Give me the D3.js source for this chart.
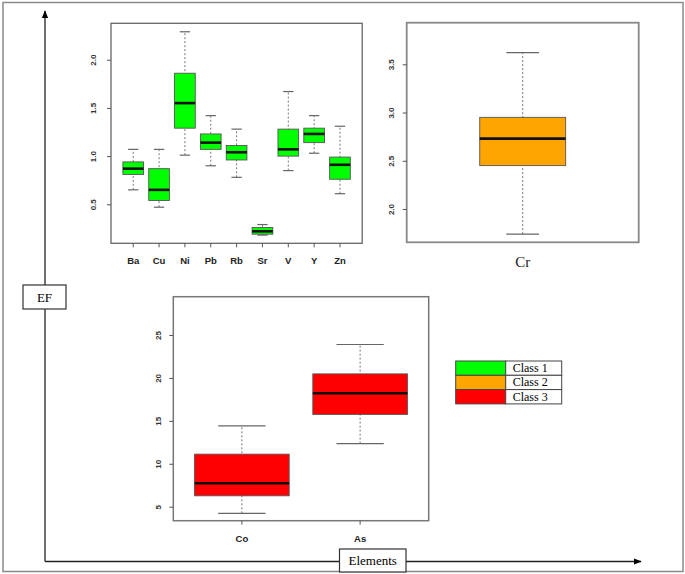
<!DOCTYPE html>
<html>
<head>
<meta charset="utf-8">
<script src="https://cdn.jsdelivr.net/npm/d3@7"></script>
<style>
  body { margin: 0; background: #fff; }
  svg { display: block; }
</style>
</head>
<body>
<div id="app"></div>
<script>
'use strict'
// class 1 (green panel)
const class1Elements = ['Ba', 'Cu', 'Ni', 'Pb', 'Rb', 'Sr', 'V', 'Y', 'Zn']
const class1Low    = [0.65, 0.47, 1.01, 0.90, 0.78, 0.18, 0.85, 1.03, 0.61]
const class1Q1     = [0.81, 0.54, 1.29, 1.07, 0.96, 0.19, 1.00, 1.14, 0.76]
const class1Median = [0.87, 0.65, 1.55, 1.14, 1.04, 0.22, 1.07, 1.23, 0.91]
const class1Q3     = [0.94, 0.87, 1.86, 1.23, 1.11, 0.26, 1.28, 1.29, 0.99]
const class1High   = [1.07, 1.07, 2.29, 1.42, 1.28, 0.29, 1.67, 1.42, 1.31]
const class1Ticks  = [0.5, 1.0, 1.5, 2.0]

// class 2 (orange panel)
const class2Elements = ['Cr']
const class2Low    = [1.74]
const class2Q1     = [2.45]
const class2Median = [2.73]
const class2Q3     = [2.95]
const class2High   = [3.62]
const class2Ticks  = [2.0, 2.5, 3.0, 3.5]

// class 3 (red panel)
const class3Elements = ['Co', 'As']
const class3Low    = [4.23, 12.35]
const class3Q1     = [6.27, 15.75]
const class3Median = [7.74, 18.22]
const class3Q3     = [11.12, 20.47]
const class3High   = [14.42, 23.89]
const class3Ticks  = [5, 10, 15, 20, 25]

const legendLabels = ['Class 1', 'Class 2', 'Class 3']
const classColors = ['#00ff00', '#ffa500', '#ff0000']

const W = 685, H = 574
const svg = d3.select('#app').append('svg')
  .attr('width', W)
  .attr('height', H)

svg.append('defs').append('marker')
  .attr('id', 'arrow')
  .attr('viewBox', '0 0 10 10')
  .attr('refX', 9).attr('refY', 5)
  .attr('markerWidth', 8).attr('markerHeight', 8)
  .attr('markerUnits', 'userSpaceOnUse')
  .attr('orient', 'auto')
  .append('path')
  .attr('d', 'M0,1L10,5L0,9Z')
  .attr('fill', '#000')

// outer frame
svg.append('rect')
  .attr('x', 3).attr('y', 2.5)
  .attr('width', 680).attr('height', 569)
  .attr('fill', 'none')
  .attr('stroke', '#8a8a8a')
  .attr('stroke-width', 1.5)

// EF / Elements arrows
svg.append('line')
  .attr('x1', 45).attr('y1', 561.5).attr('x2', 45).attr('y2', 11)
  .attr('stroke', '#222').attr('stroke-width', 1.3)
  .attr('marker-end', 'url(#arrow)')
svg.append('line')
  .attr('x1', 45).attr('y1', 561.5).attr('x2', 641).attr('y2', 561.5)
  .attr('stroke', '#222').attr('stroke-width', 1.3)
  .attr('marker-end', 'url(#arrow)')

const labelBox = (x, y, w, h, text) => {
  svg.append('rect')
    .attr('x', x).attr('y', y).attr('width', w).attr('height', h)
    .attr('fill', '#fff').attr('stroke', '#333').attr('stroke-width', 1.2)
  svg.append('text')
    .attr('x', x + w / 2).attr('y', y + h / 2)
    .attr('text-anchor', 'middle')
    .attr('dominant-baseline', 'central')
    .style('font-family', '"Liberation Serif", "DejaVu Serif", serif')
    .style('font-size', '13px')
    .text(text)
}
labelBox(23, 285, 43, 24, 'EF')
labelBox(339.5, 549, 66.5, 23, 'Elements')

const panels = [
  { names: class1Elements, low: class1Low, q1: class1Q1, med: class1Median, q3: class1Q3, high: class1High,
    ticks: class1Ticks, fmt: d3.format('.1f'), color: classColors[0],
    x0: 111, x1: 362.2, y0: 23.3, y1: 243.3, yDomain: [0.0955, 2.378],
    boxW: 0.8, capW: 0.4, labelDx: 18, xTicks: true, frame: '#666', frameW: 1.3,
    nameFont: 'bold 9.5px "Liberation Sans", Arial, sans-serif', nameY: 263.5 },
  { names: class2Elements, low: class2Low, q1: class2Q1, med: class2Median, q3: class2Q3, high: class2High,
    ticks: class2Ticks, fmt: d3.format('.1f'), color: classColors[1],
    x0: 406.7, x1: 638.7, y0: 22.7, y1: 242.3, yDomain: [1.655, 3.931],
    boxW: 0.4, capW: 0.152, labelDx: 15, xTicks: false, frame: '#888', frameW: 1.8,
    nameFont: '15px "Liberation Serif", "DejaVu Serif", serif', nameY: 267 },
  { names: class3Elements, low: class3Low, q1: class3Q1, med: class3Median, q3: class3Q3, high: class3High,
    ticks: class3Ticks, fmt: d3.format('d'), color: classColors[2],
    x0: 173.3, x1: 428.7, y0: 296.7, y1: 520.7, yDomain: [3.37, 29.46],
    boxW: 0.8, capW: 0.4, labelDx: 15, xTicks: true, frame: '#777', frameW: 1.5,
    nameFont: 'bold 9.5px "Liberation Sans", Arial, sans-serif', nameY: 541.5 }
]

panels.forEach(p => {
  const n = p.names.length
  const x = d3.scaleLinear()
    .domain([0.5 - 0.04 * n, n + 0.5 + 0.04 * n])
    .range([p.x0, p.x1])
  const y = d3.scaleLinear().domain(p.yDomain).range([p.y1, p.y0])
  const data = p.names.map((name, i) => ({
    name, pos: i + 1, low: p.low[i], q1: p.q1[i], med: p.med[i], q3: p.q3[i], high: p.high[i]
  }))
  const unit = x(2) - x(1)
  const g = svg.append('g')

  // white background
  g.append('rect')
    .attr('x', p.x0).attr('y', p.y0)
    .attr('width', p.x1 - p.x0).attr('height', p.y1 - p.y0)
    .attr('fill', '#fff')

  const boxes = g.selectAll('g.box')
    .data(data)
    .enter().append('g')
    .attr('class', 'box')

  // whiskers
  boxes.append('line')
    .attr('x1', d => x(d.pos)).attr('x2', d => x(d.pos))
    .attr('y1', d => y(d.low)).attr('y2', d => y(d.high))
    .attr('stroke', '#777').attr('stroke-width', 1)
    .attr('stroke-dasharray', '2,2')
  ;['low', 'high'].forEach(k => {
    boxes.append('line')
      .attr('x1', d => x(d.pos) - unit * p.capW / 2)
      .attr('x2', d => x(d.pos) + unit * p.capW / 2)
      .attr('y1', d => y(d[k])).attr('y2', d => y(d[k]))
      .attr('stroke', '#666').attr('stroke-width', 1.2)
  })
  boxes.append('rect')
    .attr('x', d => x(d.pos) - unit * p.boxW / 2)
    .attr('width', unit * p.boxW)
    .attr('y', d => y(d.q3))
    .attr('height', d => y(d.q1) - y(d.q3))
    .attr('fill', p.color)
    .attr('stroke', '#555').attr('stroke-width', 0.9)
  boxes.append('line')
    .attr('x1', d => x(d.pos) - unit * p.boxW / 2)
    .attr('x2', d => x(d.pos) + unit * p.boxW / 2)
    .attr('y1', d => y(d.med)).attr('y2', d => y(d.med))
    .attr('stroke', '#111').attr('stroke-width', 2.6)

  // frame
  g.append('rect')
    .attr('x', p.x0).attr('y', p.y0)
    .attr('width', p.x1 - p.x0).attr('height', p.y1 - p.y0)
    .attr('fill', 'none')
    .attr('stroke', p.frame).attr('stroke-width', p.frameW)

  // y axis, R style rotated labels
  const yAxis = g.append('g')
    .attr('transform', `translate(${p.x0},0)`)
    .call(d3.axisLeft(y).tickValues(p.ticks).tickFormat(p.fmt).tickSize(4))
  yAxis.select('.domain').remove()
  yAxis.selectAll('line').attr('stroke', '#555')
  yAxis.selectAll('text')
    .attr('x', null).attr('dy', null)
    .attr('transform', `translate(${-p.labelDx},0) rotate(-90)`)
    .attr('text-anchor', 'middle')
    .attr('dominant-baseline', 'central')
    .attr('fill', '#333')
    .style('font', 'bold 8px "Liberation Sans", Arial, sans-serif')

  // x tick marks and names
  if (p.xTicks) {
    g.selectAll('line.xt')
      .data(data)
      .enter().append('line')
      .attr('x1', d => x(d.pos)).attr('x2', d => x(d.pos))
      .attr('y1', p.y1).attr('y2', p.y1 + 4)
      .attr('stroke', '#555')
  }
  g.selectAll('text.name')
    .data(data)
    .enter().append('text')
    .attr('x', d => x(d.pos))
    .attr('y', p.nameY)
    .attr('text-anchor', 'middle')
    .attr('fill', '#222')
    .style('font', p.nameFont)
    .text(d => d.name)
})

// legend
const lg = svg.append('g').attr('transform', 'translate(455.7,361)')
const rowH = 14.3
lg.selectAll('rect.sw')
  .data(legendLabels)
  .enter().append('rect')
  .attr('x', 0).attr('y', (d, i) => i * rowH)
  .attr('width', 50).attr('height', rowH)
  .attr('fill', (d, i) => classColors[i])
  .attr('stroke', '#444').attr('stroke-width', 1)
lg.selectAll('rect.cell')
  .data(legendLabels)
  .enter().append('rect')
  .attr('x', 50).attr('y', (d, i) => i * rowH)
  .attr('width', 56).attr('height', rowH)
  .attr('fill', '#fff')
  .attr('stroke', '#444').attr('stroke-width', 1)
lg.selectAll('text')
  .data(legendLabels)
  .enter().append('text')
  .attr('x', 57).attr('y', (d, i) => i * rowH + rowH / 2)
  .attr('dominant-baseline', 'central')
  .style('font', '12px "Liberation Serif", "DejaVu Serif", serif')
  .text(d => d)
</script>
</body>
</html>
